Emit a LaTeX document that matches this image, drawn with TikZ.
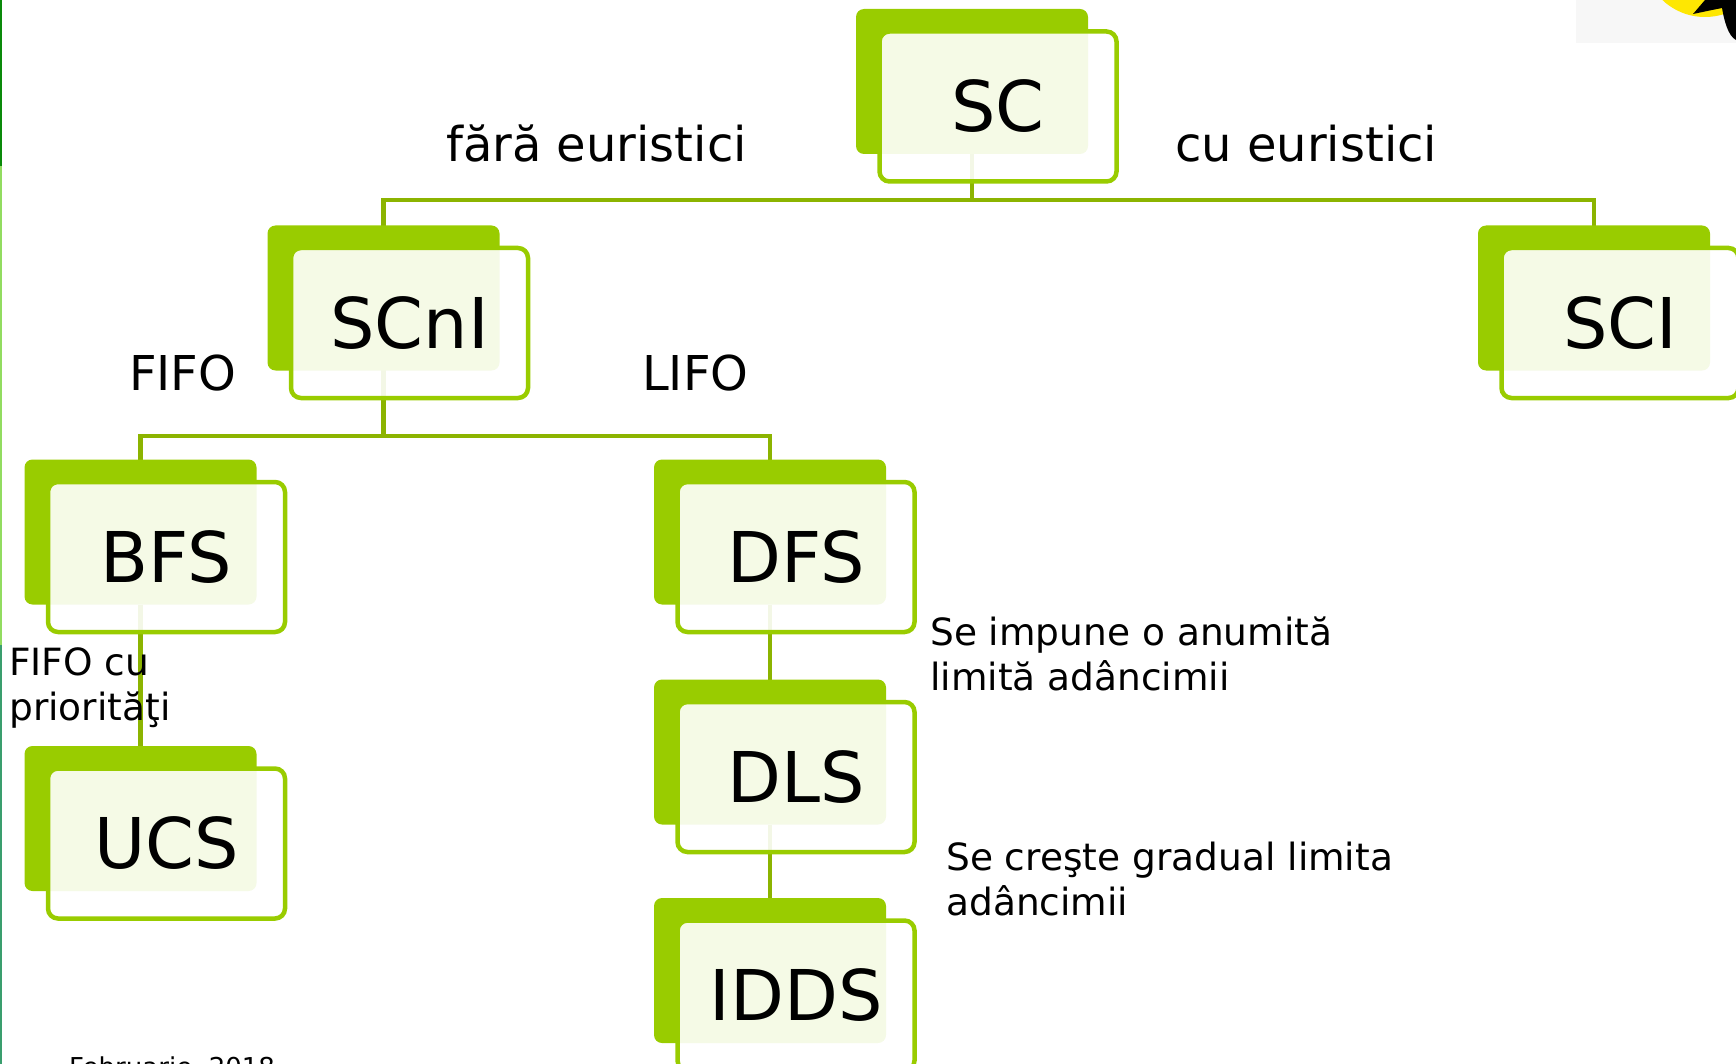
\documentclass[tikz,border=0pt]{standalone}
\usepackage{fontspec}
\setmainfont{DejaVu Sans}
\usetikzlibrary{backgrounds}
\definecolor{cardgreen}{HTML}{99CC00}
\definecolor{linkgreen}{HTML}{8CB400}
\definecolor{edgedark}{HTML}{0A8A0A}
\definecolor{edgelight}{HTML}{92DC60}
\definecolor{edgeteal}{HTML}{3A9E6E}
\begin{document}
\begin{tikzpicture}[x=1pt,y=-1pt,
  back/.style={fill=cardgreen,rounded corners=8pt,minimum width=232pt,minimum height=145pt,inner sep=0pt,outer sep=0pt},
  front/.style={draw=cardgreen,line width=4.5pt,fill=white,fill opacity=.9,text opacity=1,rounded corners=10pt,
    minimum width=237pt,minimum height=150pt,inner sep=0pt,font=\fontsize{70}{84}\selectfont},
  link/.style={draw=linkgreen,line width=4.5pt},
  lbl/.style={anchor=base west,inner sep=0pt,font=\fontsize{48}{58}\selectfont},
  note/.style={anchor=base west,inner sep=0pt,align=left,font=\fontsize{37.5}{44.5}\selectfont}]
\useasboundingbox (0,0) rectangle (1736,1064);
% page edge and the corner picture
\fill[edgedark] (0,0) rectangle (2,166);
\fill[edgelight] (0,166) rectangle (2,645);
\fill[edgeteal] (0,645) rectangle (2,1064);
\fill[black!3] (1576,0) rectangle (1736,43);
\begin{scope}
  \clip (1576,0) rectangle (1736,43);
  \fill[yellow!90!orange] (1705,-45) circle (62);
  \fill[black] (1693,14) -- (1705,0) -- (1736,0) -- (1736,40) .. controls (1728,36) and (1724,20) .. (1722,8) -- (1712,10) -- cycle;
\end{scope}
% cards: green block with a lighter panel on top
\foreach \n/\cx/\cy/\txt in {sc/972/81.5/SC, scni/383.5/298/SCnI, sci/1594/298/SCI,
    bfs/140.5/532/BFS, dfs/770/532/DFS, dls/770/752/DLS, ucs/140.5/818.5/UCS, idds/770/970.5/IDDS}{
  \node[back] (\n) at (\cx,\cy) {};
  \node[front] (\n-f) at ([shift={(26,25)}]\n.center) {\txt};
}
% tree links sit under the cards
\begin{pgfonlayer}{background}
\draw[link] (sc.center) -- (sc.center |- 0,200) -| (scni.center);
\draw[link] (sc.center |- 0,200) -| (sci.center);
\draw[link] (scni.center) -- (scni.center |- 0,436) -| (bfs.center);
\draw[link] (scni.center |- 0,436) -| (dfs.center);
\draw[link] (bfs) -- (ucs);
\draw[link] (dfs) -- (dls);
\draw[link] (dls) -- (idds);
\end{pgfonlayer}
% labels (notes are placed by their last line)
\node[lbl] (fara) at (446,162) {fără euristici};
\node[lbl] (cu) at (1175,162) {cu euristici};
\node[lbl] (fifo) at (129,390) {FIFO};
\node[lbl] (lifo) at (642,390) {LIFO};
\node[note] (prio) at (9,720) {FIFO cu\\priorităţi};
\node[note] (limita) at (930,690) {Se impune o anumită\\limită adâncimii};
\node[note] (gradual) at (946,915) {Se creşte gradual limita\\adâncimii};
\node[anchor=base west,inner sep=0pt,font=\fontsize{26}{31}\selectfont] (data) at (69,1076) {Februarie\ \ 2018};
\end{tikzpicture}
\end{document}
